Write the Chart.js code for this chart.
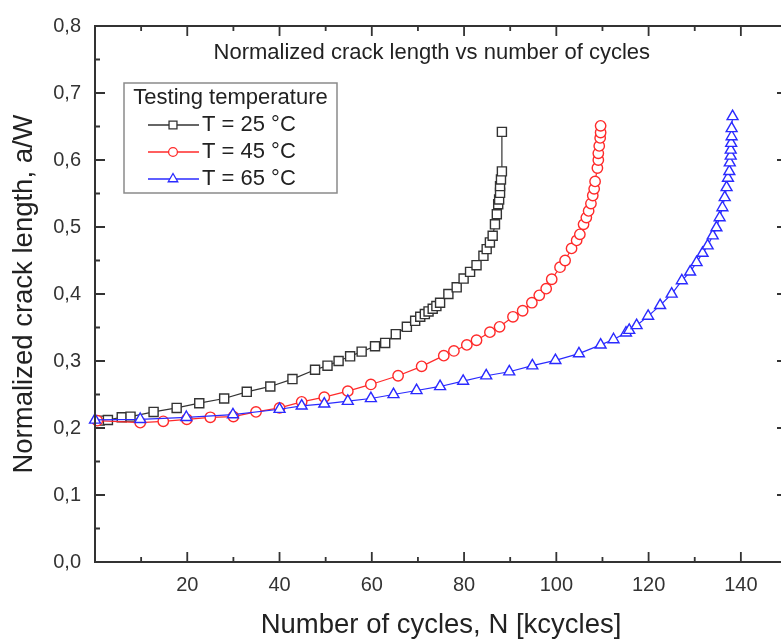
<!DOCTYPE html>
<html>
<head>
<meta charset="utf-8">
<title>Normalized crack length vs number of cycles</title>
<script src="https://cdn.jsdelivr.net/npm/chart.js@4.4.1/dist/chart.umd.min.js"></script>
<style>
  html, body { margin: 0; padding: 0; background: #fff; overflow: hidden; }
  #wrap { width: 781px; height: 641px; overflow: hidden; }
</style>
</head>
<body>
<div id="wrap"><canvas id="crackChart" width="800" height="641"></canvas></div>
<script>
// T = 25 °C
const cycles25 = [1.0, 2.8, 5.8, 7.7, 12.7, 17.7, 22.6, 28.0, 32.9, 38.0, 42.8, 47.7, 50.4, 52.8, 55.3, 57.8,
  60.7, 62.9, 65.2, 67.6, 69.4, 70.5, 71.5, 72.3, 73.2, 74.0, 74.8, 76.6, 78.4, 79.9, 81.3, 82.7, 84.2,
  84.9, 85.6, 86.2, 86.7, 87.1, 87.4, 87.6, 87.8, 87.8, 88.0, 88.2, 88.2];
const crack25 = [0.211, 0.212, 0.216, 0.217, 0.224, 0.230, 0.237, 0.244, 0.254, 0.262, 0.273, 0.287, 0.293, 0.300, 0.307, 0.314,
  0.322, 0.327, 0.340, 0.351, 0.360, 0.366, 0.370, 0.374, 0.378, 0.382, 0.387, 0.400, 0.410, 0.423, 0.433, 0.443, 0.457,
  0.467, 0.477, 0.487, 0.504, 0.519, 0.534, 0.541, 0.551, 0.561, 0.571, 0.583, 0.642];

// T = 45 °C
const cycles45 = [0.5, 9.8, 14.8, 19.9, 25.0, 30.0, 34.9, 40.0, 44.8, 49.7, 54.8, 59.8, 65.7, 70.8, 75.6, 77.8,
  80.6, 82.7, 85.6, 87.7, 90.6, 92.7, 94.7, 96.3, 97.8, 99.0, 100.8, 101.9, 103.3, 104.4, 105.1, 105.9,
  106.5, 107.0, 107.5, 107.9, 108.2, 108.4, 108.9, 109.1, 109.1, 109.3, 109.5, 109.6, 109.6];
const crack45 = [0.211, 0.208, 0.210, 0.213, 0.216, 0.217, 0.224, 0.230, 0.239, 0.246, 0.255, 0.265, 0.278, 0.292, 0.308, 0.315,
  0.324, 0.331, 0.343, 0.351, 0.366, 0.375, 0.387, 0.398, 0.408, 0.422, 0.440, 0.450, 0.468, 0.480, 0.489, 0.504,
  0.514, 0.524, 0.535, 0.547, 0.557, 0.568, 0.588, 0.600, 0.610, 0.621, 0.633, 0.641, 0.651];

// T = 65 °C
const cycles65 = [0.0, 9.8, 19.8, 29.9, 40.0, 44.8, 49.7, 54.8, 59.8, 64.7, 69.7, 74.8, 79.8, 84.8, 89.8, 94.8,
  99.8, 104.9, 109.6, 112.4, 115.1, 115.8, 117.4, 119.9, 122.5, 125.0, 127.2, 129.0, 130.4, 131.7, 132.8,
  133.9, 134.7, 135.4, 136.0, 136.5, 136.9, 137.2, 137.5, 137.6, 137.8, 137.8, 137.9, 138.0, 138.0, 138.2];
const crack65 = [0.212, 0.213, 0.216, 0.220, 0.228, 0.233, 0.236, 0.240, 0.244, 0.250, 0.256, 0.262, 0.270, 0.278, 0.284, 0.293,
  0.301, 0.311, 0.324, 0.332, 0.342, 0.346, 0.353, 0.367, 0.383, 0.400, 0.420, 0.433, 0.447, 0.461, 0.472,
  0.487, 0.499, 0.514, 0.529, 0.544, 0.559, 0.573, 0.583, 0.596, 0.606, 0.615, 0.625, 0.635, 0.647, 0.665];

const seriesLabels = ['T = 25 °C', 'T = 45 °C', 'T = 65 °C'];
const xTickValues = [20, 40, 60, 80, 100, 120, 140];
const yTickValues = [0, 0.1, 0.2, 0.3, 0.4, 0.5, 0.6, 0.7, 0.8];
const legendTitle = 'Testing temperature';
const chartTitle = 'Normalized crack length vs number of cycles';
const xTitle = 'Number of cycles, N [kcycles]';
const yTitle = 'Normalized crack length, a/W';

const FONT = '"Liberation Sans", Arial, sans-serif';
Chart.defaults.font.family = FONT;

function toPoints(xs, ys) {
  return xs.map((x, i) => ({ x: x, y: ys[i] }));
}

function makeSeries(label, xs, ys, color, style, radius, order) {
  return {
    label: label,
    data: toPoints(xs, ys),
    borderColor: color,
    borderWidth: 1.2,
    pointStyle: style,
    pointRadius: radius,
    pointBorderColor: color,
    pointBackgroundColor: '#fff',
    pointBorderWidth: 1.4,
    showLine: true,
    tension: 0,
    clip: false,
    order: order
  };
}

const datasets = [
  makeSeries(seriesLabels[0], cycles25, crack25, '#333333', 'rect', 6.4, 2),
  makeSeries(seriesLabels[1], cycles45, crack45, '#ff2a2a', 'circle', 5.2, 1),
  makeSeries(seriesLabels[2], cycles65, crack65, '#2a2aff', 'triangle', 6.3, 0)
];

// frame with inward ticks, title inside the plot, boxed legend
const framePlugin = {
  id: 'originFrame',
  afterDatasetsDraw(chart) {
    const { ctx, chartArea: a, scales } = chart;
    const xs = scales.x, ys = scales.y;
    ctx.save();
    ctx.strokeStyle = '#333';
    ctx.lineWidth = 2;
    ctx.strokeRect(a.left, a.top, a.right - a.left, a.bottom - a.top);

    ctx.lineWidth = 1.8;
    ctx.beginPath();
    for (let v = xs.min; v <= xs.max; v += 10) {
      const px = xs.getPixelForValue(v);
      const len = v % 20 === 0 ? 10 : 5;
      ctx.moveTo(px, a.bottom); ctx.lineTo(px, a.bottom - len);
      ctx.moveTo(px, a.top); ctx.lineTo(px, a.top + len);
    }
    for (let i = 0; i <= 16; i++) {
      const py = ys.getPixelForValue(i * 0.05);
      const len = i % 2 === 0 ? 10 : 5;
      ctx.moveTo(a.left, py); ctx.lineTo(a.left + len, py);
      ctx.moveTo(a.right, py); ctx.lineTo(a.right - len, py);
    }
    ctx.stroke();

    ctx.fillStyle = '#222';
    ctx.font = '22px ' + FONT;
    ctx.textAlign = 'center';
    ctx.textBaseline = 'middle';
    ctx.fillText(chartTitle, xs.getPixelForValue(73), ys.getPixelForValue(0.76));
    ctx.restore();
  },
  afterDraw(chart) {
    const { ctx, chartArea: a } = chart;
    const bx = a.left + 29, by = a.top + 57, bw = 213, bh = 110;
    ctx.save();
    ctx.fillStyle = '#fff';
    ctx.fillRect(bx, by, bw, bh);
    ctx.strokeStyle = '#8a8a8a';
    ctx.lineWidth = 1.5;
    ctx.strokeRect(bx, by, bw, bh);

    ctx.fillStyle = '#222';
    ctx.font = '22px ' + FONT;
    ctx.textBaseline = 'middle';
    ctx.textAlign = 'center';
    ctx.fillText(legendTitle, bx + bw / 2, by + 15);

    ctx.textAlign = 'left';
    const rows = [by + 42, by + 69, by + 96];
    chart.data.datasets.forEach((ds, i) => {
      const y = rows[i];
      ctx.strokeStyle = ds.borderColor;
      ctx.lineWidth = 1.3;
      ctx.beginPath();
      ctx.moveTo(bx + 24, y); ctx.lineTo(bx + 75, y);
      ctx.stroke();
      ctx.fillStyle = '#fff';
      Chart.helpers.drawPoint(ctx, {
        pointStyle: ds.pointStyle, radius: ds.pointRadius - 0.8, rotation: 0, borderWidth: ds.pointBorderWidth
      }, bx + 49, y);
      ctx.fillStyle = '#222';
      ctx.fillText(ds.label, bx + 78, y);
    });
    ctx.restore();
  }
};

new Chart(document.getElementById('crackChart'), {
  type: 'scatter',
  data: { datasets: datasets },
  plugins: [framePlugin],
  options: {
    responsive: false,
    animation: false,
    layout: { padding: { top: 22, right: 13, bottom: 0, left: 0 } },
    plugins: {
      legend: { display: false },
      tooltip: { enabled: false },
      title: { display: false }
    },
    scales: {
      x: {
        type: 'linear',
        min: 0,
        max: 150,
        afterFit: s => { s.height = 79; },
        afterBuildTicks: s => { s.ticks = xTickValues.map(v => ({ value: v })); },
        grid: { display: false, drawTicks: false },
        border: { display: false },
        ticks: {
          autoSkip: false,
          padding: 11,
          color: '#333',
          font: { size: 20 },
          maxRotation: 0,
          callback: v => String(v)
        },
        title: {
          display: true,
          text: xTitle,
          color: '#222',
          font: { size: 27.5, lineHeight: 1 },
          padding: { top: 0, bottom: 2 }
        }
      },
      y: {
        min: 0,
        max: 0.8,
        afterFit: s => { s.width = 95; },
        afterBuildTicks: s => { s.ticks = yTickValues.map(v => ({ value: v })); },
        grid: { display: false, drawTicks: false },
        border: { display: false },
        ticks: {
          autoSkip: false,
          padding: 14,
          color: '#333',
          font: { size: 20 },
          callback: v => v.toFixed(1).replace('.', ',')
        },
        title: {
          display: true,
          text: yTitle,
          color: '#222',
          font: { size: 27.5, lineHeight: 1 },
          padding: { top: 11, bottom: 0 }
        }
      }
    }
  }
});
</script>
</body>
</html>
